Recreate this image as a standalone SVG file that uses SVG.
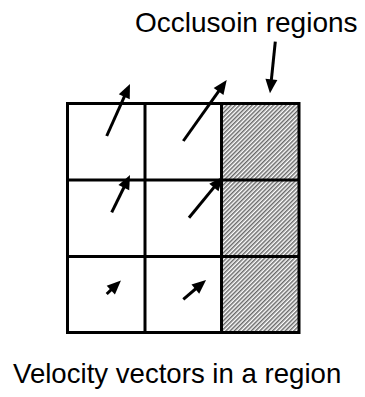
<svg xmlns="http://www.w3.org/2000/svg" width="365" height="397" viewBox="0 0 365 397">
  <style>
    .lbl { font-family: "Liberation Sans", Arial, sans-serif; fill: #000; }
    .grid { fill: none; stroke: #000; stroke-width: 3; }
    .vec { stroke: #000; stroke-width: 3; fill: none; marker-end: url(#ah); }
  </style>
  <defs>
    <marker id="ah" markerUnits="userSpaceOnUse" markerWidth="14" markerHeight="12" refX="4" refY="6" orient="auto" overflow="visible">
      <path d="M0,0 L14,6 L0,12 Z" fill="#000"/>
    </marker>
    <pattern id="hatch" width="3" height="3" patternUnits="userSpaceOnUse" patternTransform="rotate(45)">
      <rect width="3" height="3" fill="#fff"/>
      <line x1="0.8" y1="0" x2="0.8" y2="3" stroke="#444" stroke-width="1.2"/>
    </pattern>
  </defs>
  <rect width="365" height="397" fill="#fff"/>

  <g id="occlusion">
    <rect x="221" y="103" width="78" height="230" fill="url(#hatch)"/>
  </g>

  <g id="grid">
    <rect class="grid" x="67.5" y="103.5" width="231.5" height="229"/>
    <line class="grid" x1="145" y1="103" x2="145" y2="333"/>
    <line class="grid" x1="221.5" y1="103" x2="221.5" y2="333"/>
    <line class="grid" x1="67" y1="180" x2="299" y2="180"/>
    <line class="grid" x1="67" y1="256.5" x2="299" y2="256.5"/>
  </g>

  <g id="connectors">
    <line class="vec" x1="106.7" y1="136" x2="125.9" y2="93.1"/>
    <line class="vec" x1="183.3" y1="141" x2="220.9" y2="88.2"/>
    <line class="vec" x1="111.7" y1="212.3" x2="125.6" y2="184"/>
    <line class="vec" x1="189" y1="217.7" x2="216.4" y2="184.4"/>
    <line class="vec" x1="106.7" y1="294" x2="113.7" y2="287.4"/>
    <line class="vec" x1="183.3" y1="299.3" x2="198.4" y2="286.5"/>
    <line class="vec" x1="275.3" y1="41.7" x2="271" y2="83.4"/>
  </g>

  <g id="label-occlusion">
    <text class="lbl" x="135" y="32" font-size="28">Occlusoin regions</text>
  </g>
  <g id="label-caption">
    <text class="lbl" x="13" y="383" font-size="27.6">Velocity vectors in a region</text>
  </g>
</svg>
